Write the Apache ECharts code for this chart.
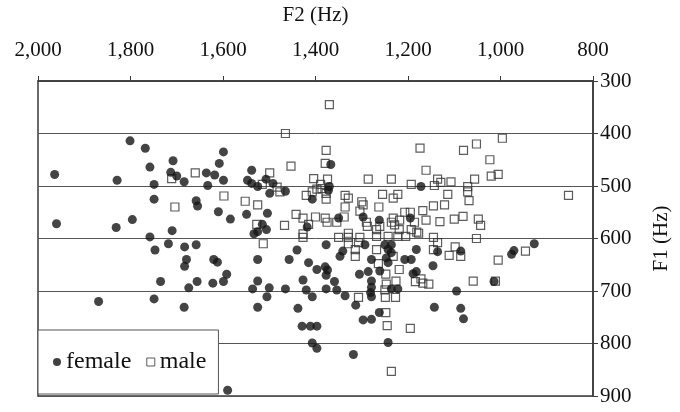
<!DOCTYPE html>
<html><head><meta charset="utf-8">
<script src="https://cdn.jsdelivr.net/npm/echarts@6/dist/echarts.min.js"></script>
<style>html,body{margin:0;padding:0;background:#fff}#c{width:680px;height:412px}</style>
</head><body><div id="c"></div>
<script>
const femaleF2 = [1801,1768,1708,1758,1964,1713,1700,1829,1749,1599,1608,1636,1618,1538,1684,1599,1547,1538,1507,1492,1525,1633,1367,1172,1370,1749,1960,1796,1831,1710,1758,1718,1747,1735,1499,1465,1407,1658,1655,1610,1584,1549,1504,1418,1515,1506,1525,1533,1683,1658,1440,1679,1683,1620,1612,1525,1457,1415,1592,1599,1622,1656,1525,1427,1397,1674,1536,1500,1465,1420,1372,1297,1350,1262,1195,1377,1293,1250,1236,1243,1182,1136,1341,1347,1236,1279,1247,1243,1207,1193,1146,1379,1374,1377,1305,1286,1261,1189,1182,1279,1359,1377,1354,1279,1236,1222,1086,971,976,927,1014,1095,1869,1749,1684,1525,1505,1438,1407,1429,1411,1397,1407,1397,1590,1336,1281,1279,1313,1262,1297,1279,1143,1243,1318,1086,1080];
const femaleF1 = [414,428,452,464,478,474,481,489,497,435,457,475,479,470,492,489,489,495,487,495,501,499,459,501,501,525,572,564,579,585,597,610,622,682,514,510,525,528,538,549,563,554,552,578,573,583,587,591,616,612,622,640,653,640,645,640,640,646,668,682,685,682,681,679,659,694,696,694,696,698,508,559,561,565,561,612,612,612,612,621,621,625,624,634,627,640,637,646,640,640,652,654,660,670,668,663,662,667,663,681,682,696,698,693,696,696,624,623,630,610,682,700,720,715,731,731,711,733,711,767,767,767,799,809,889,709,703,711,727,741,755,754,731,798,821,733,753];
const maleF2 = [1711,1465,1453,1660,1499,1515,1404,1483,1370,1377,1174,1379,1161,1374,1286,1236,1136,1129,1107,1193,1143,1389,996,1052,1080,1023,1005,1020,1056,1071,853,1704,1477,1420,1407,1598,1552,1525,1442,1427,1400,1415,1527,1467,1427,1427,1513,1397,1386,1377,1377,1336,1329,1300,1297,1336,1263,1255,1232,1222,1114,1304,1379,1375,1354,1338,1290,1288,1261,1268,1236,1229,1232,1218,1207,1195,1186,1168,1161,1145,1121,1131,1100,1219,1193,1181,1177,1350,1329,1329,1304,1268,1243,1222,1205,1145,1329,1307,1136,1145,1268,1314,1314,1111,1232,1264,1219,1248,1184,1172,1168,1155,1226,1247,1250,1071,1068,1081,1048,1043,1052,1098,1086,946,1005,1059,1011,1307,1249,1227,1248,1245,1195,1236];
const maleF1 = [486,400,462,475,475,497,486,502,345,432,428,457,470,487,487,487,487,493,492,497,499,497,409,420,432,450,478,481,487,501,518,540,511,518,511,519,529,536,554,561,559,573,573,575,591,598,610,506,505,514,525,518,523,530,536,540,540,516,523,516,516,548,561,569,569,559,569,577,577,583,569,574,561,565,550,550,569,547,565,538,536,568,563,583,583,588,590,598,590,598,598,596,596,596,596,598,610,608,608,621,621,621,634,632,634,648,659,668,682,677,685,687,681,687,698,511,528,558,563,575,600,616,634,624,641,681,681,712,712,712,741,766,771,853];
const seriesNames = ['female','male'];
const f2Ticks = [800,1000,1200,1400,1600,1800,2000];
const f1Ticks = [300,400,500,600,700,800,900];

const FONT = 'Liberation Serif';
const pair = (a,b) => a.map((v,i)=>[v,b[i]]);
const chart = echarts.init(document.getElementById('c'), null, {renderer:'canvas'});
chart.setOption({
  animation:false,
  backgroundColor:'#fff',
  textStyle:{fontFamily:FONT},
  grid:{left:38,right:82,top:76,bottom:16,show:true,borderColor:'#3a3a3a',borderWidth:1.5,backgroundColor:'transparent'},
  xAxis:{type:'value',position:'top',inverse:true,min:f2Ticks[0],max:f2Ticks[f2Ticks.length-1],interval:200,
    name:'F2 (Hz)',nameLocation:'middle',nameGap:55,
    nameTextStyle:{fontFamily:FONT,fontSize:21,color:'#111'},
    axisLine:{show:true,onZero:false,lineStyle:{color:'#3a3a3a',width:1.5}},
    axisTick:{show:true,inside:false,length:5,lineStyle:{color:'#3a3a3a'}},
    axisLabel:{margin:20,fontFamily:FONT,fontSize:21,color:'#111',
      formatter:v=>v.toLocaleString('en-US')},
    splitLine:{show:false}},
  yAxis:{type:'value',position:'right',inverse:true,min:f1Ticks[0],max:f1Ticks[f1Ticks.length-1],interval:100,
    name:'F1 (Hz)',nameLocation:'middle',nameGap:58,nameRotate:90,
    nameTextStyle:{fontFamily:FONT,fontSize:21,color:'#111'},
    axisLine:{show:true,onZero:false,lineStyle:{color:'#3a3a3a',width:1.5}},
    axisTick:{show:true,inside:false,length:5,lineStyle:{color:'#3a3a3a'}},
    axisLabel:{margin:7,fontFamily:FONT,fontSize:21,color:'#111'},
    splitLine:{show:true,lineStyle:{color:'#555',width:1}}},
  legend:{left:38,top:330,orient:'horizontal',padding:[20,12,20,15],itemGap:15,itemWidth:8,itemHeight:8,
    backgroundColor:'#fff',borderColor:'#555',borderWidth:1,
    textStyle:{fontFamily:FONT,fontSize:24,color:'#111'},
    data:[{name:seriesNames[0],icon:'circle',itemStyle:{color:'#111'}},
          {name:seriesNames[1],icon:'rect',itemStyle:{color:'#fff',borderColor:'#333',borderWidth:1}}]},
  series:[
    {name:seriesNames[1],type:'scatter',symbol:'rect',symbolSize:8,z:2,
      itemStyle:{color:'rgba(255,255,255,0)',borderColor:'#333',borderWidth:1.2},
      data:pair(maleF2,maleF1)},
    {name:seriesNames[0],type:'scatter',symbol:'circle',symbolSize:9,z:3,
      itemStyle:{color:'#151515'},
      data:pair(femaleF2,femaleF1)}
  ]
});
</script></body></html>
